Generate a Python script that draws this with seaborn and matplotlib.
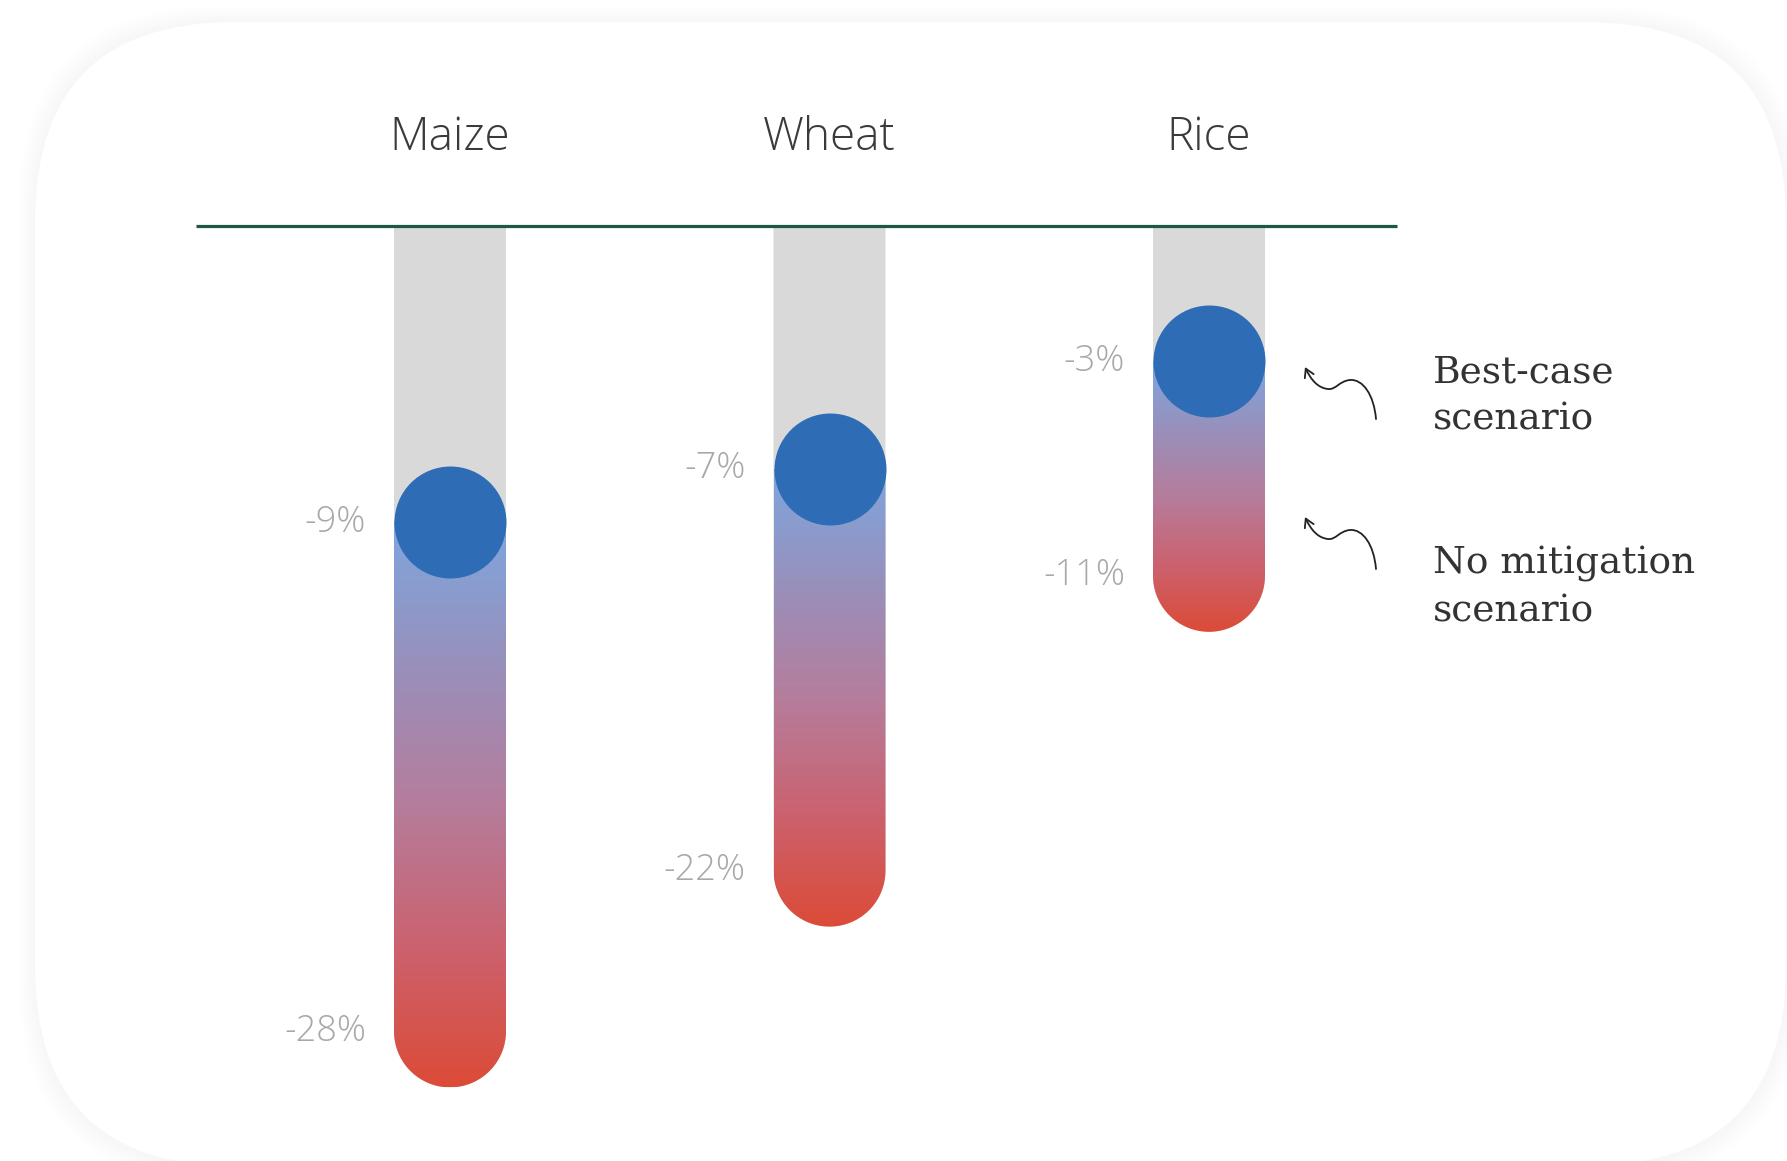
import numpy as np
import matplotlib
import matplotlib.pyplot as plt
import seaborn as sns
from matplotlib.colors import LinearSegmentedColormap
from matplotlib.patches import PathPatch, FancyBboxPatch, FancyArrowPatch
from matplotlib.path import Path
from matplotlib.transforms import IdentityTransform

crops = ["Maize", "Wheat", "Rice"]
best_case = [-9, -7, -3]
no_mitigation = [-28, -22, -11]
scenario_labels = ["Best-case\nscenario", "No mitigation\nscenario"]

# layout (output pixels)
W, H = 1787, 1161
PX_PER_CROP = 379.5
PX_PER_PCT = 26.8
FIRST_BAR_PX = 450
ZERO_ROW_PX = 281
BASELINE_ROW_PX = 226
BAR_RADIUS_PX = 56

def x_of(px):
    return (px - FIRST_BAR_PX) / PX_PER_CROP

def y_of(py):
    return (ZERO_ROW_PX - py) / PX_PER_PCT

sns.set_theme(style="white")
plt.rcParams['font.family'] = ['Open Sans', 'DejaVu Sans']

fig = plt.figure(figsize=(W / 100, H / 100), dpi=100)
fig.patch.set_facecolor('white')

# card background with a soft shadow
card = dict(boxstyle="round,pad=0,rounding_size=200")
for k in range(8, 0, -1):
    fig.add_artist(FancyBboxPatch((35 - 2 * k, -5 - 2 * k), 1751 + 4 * k, 1144 + 4 * k, **card,
                                  transform=IdentityTransform(), fc=(0, 0, 0, 0.004), ec='none', zorder=-12))
fig.add_artist(FancyBboxPatch((35, -5), 1751, 1144, **card, transform=IdentityTransform(),
                              fc='white', ec='none', zorder=-11))

ax = fig.add_axes([0, 0, 1, 1])
ax.set_facecolor('none')

xs = np.arange(len(crops))
hw = BAR_RADIUS_PX / PX_PER_CROP
ry = BAR_RADIUS_PX / PX_PER_PCT
top = y_of(BASELINE_ROW_PX)

grad_cmap = LinearSegmentedColormap.from_list(
    'grad', ['#7ea6de', '#9890bc', '#b57d9c', '#cb626f', '#dc4b37'])
grad = np.linspace(0, 1, 256).reshape(-1, 1)

for x, best, worst in zip(xs, best_case, no_mitigation):
    t = np.linspace(np.pi, 2 * np.pi, 60)
    verts = [(x - hw, top), (x - hw, worst)]
    verts += list(zip(x + hw * np.cos(t), worst + ry * np.sin(t)))
    verts += [(x + hw, top), (x - hw, top)]
    path = Path(verts)
    bar = PathPatch(path, fc='#d9d9d9', ec='none', zorder=1)
    ax.add_patch(bar)
    im = ax.imshow(grad, cmap=grad_cmap, aspect='auto', origin='upper',
                   extent=(x - hw, x + hw, worst - ry, best), zorder=2)
    im.set_clip_path(bar)

sns.scatterplot(x=xs, y=best_case, s=(2 * BAR_RADIUS_PX * 0.72) ** 2, color='#2e6db5',
                linewidth=0, zorder=3, legend=False, ax=ax)

# value labels
gap = 28 / PX_PER_CROP
label_style = dict(ha='right', va='center', fontsize=26, color='#a8a8a8', fontweight='light')
for x, best, worst in zip(xs, best_case, no_mitigation):
    ax.text(x - hw - gap, best, f"{best}%", **label_style)
    ax.text(x - hw - gap, worst, f"{worst}%", **label_style)

# crop titles
for x, name in zip(xs, crops):
    ax.text(x, y_of(138), name, ha='center', va='center', fontsize=33, color='#3a3a3a',
            fontweight='light')

ax.plot([x_of(196), x_of(1397)], [top, top], color='#1f5647', lw=2.3, zorder=4,
        solid_capstyle='butt')

# scenario notes with squiggly arrows
note_rows = [396, 588]
arrow_rows = [396, 546]
for label, row, arow in zip(scenario_labels, note_rows, arrow_rows):
    ax.text(x_of(1433), y_of(row), label, ha='left', va='center', fontsize=27,
            family='DejaVu Serif', color='#333333', linespacing=1.4)
    d = arow - 396
    pts = [(1376, 419), (1374, 395), (1363, 379), (1350, 380),
           (1339, 381), (1336, 390), (1328, 389),
           (1318, 388), (1311, 380), (1305, 367)]
    codes = [Path.MOVETO] + [Path.CURVE4] * 9
    squiggle = Path([(x_of(px), y_of(py + d)) for px, py in pts], codes)
    ax.add_patch(FancyArrowPatch(path=squiggle, arrowstyle='->,head_length=6,head_width=3.5',
                                 color='#222222', lw=1.3, zorder=4))

ax.set_xlim(x_of(0), x_of(W))
ax.set_ylim(y_of(H), y_of(0))
ax.axis('off')

fig.savefig('out.png', dpi=100)
